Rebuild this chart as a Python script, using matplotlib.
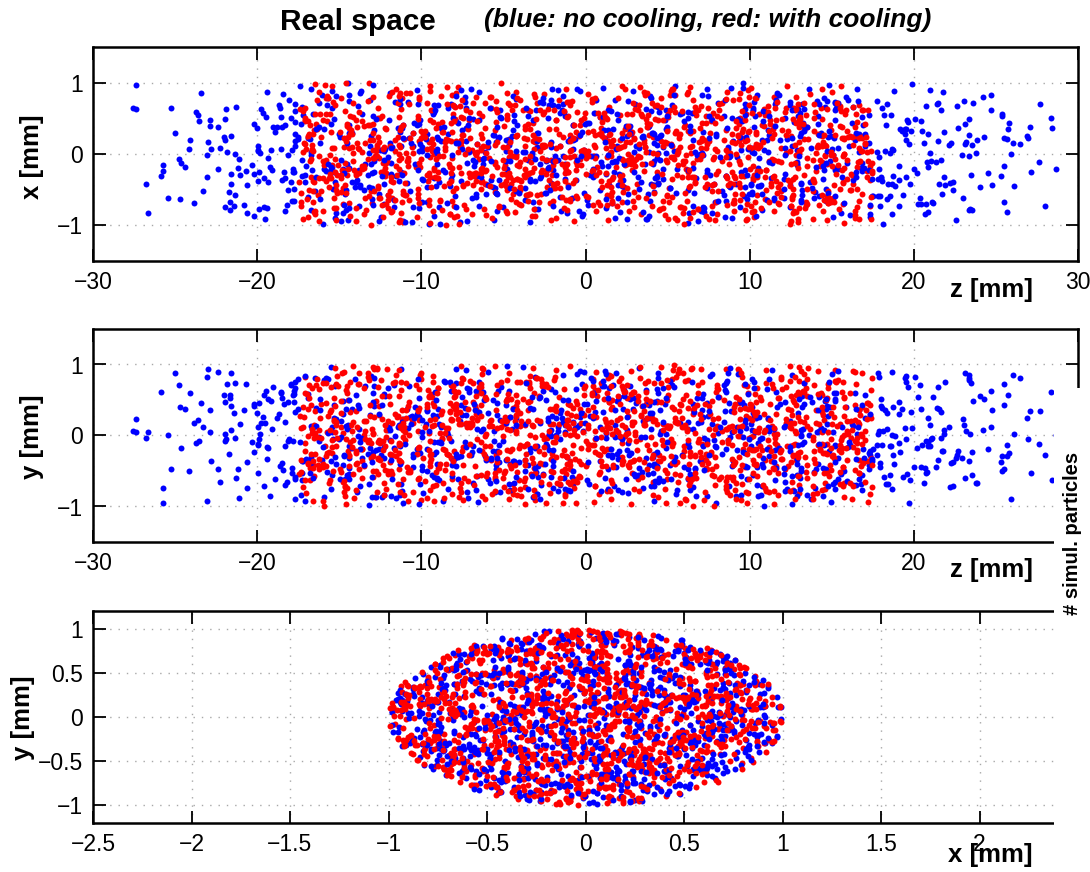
import numpy as np
import matplotlib
matplotlib.use("Agg")
import matplotlib.pyplot as plt
from matplotlib.patches import Rectangle
from matplotlib.ticker import FuncFormatter

plt.rcParams["font.family"] = ["Liberation Sans", "DejaVu Sans"]

# NOTE: the reference shows ~3000 individual simulated particles, whose single
# positions cannot be read off the picture. Only the slice counts, extents and
# beam radius below are read from it; the dot positions inside each slice come
# from a seeded random generator (make_bunch), so the clouds match in shape and
# density but not dot for dot.

# longitudinal profiles:
# number of simulated particles in each slice of z [mm]
blue_z_edges = [-27.6, -26, -24, -22, -20, -18, -16, -14, -12, -10, -8, -6, -4, -2,
                0, 2, 4, 6, 8, 10, 12, 14, 16, 18, 20, 22, 24, 26, 28, 29.1]
blue_z_counts = [5, 12, 16, 27, 38, 44, 44, 44, 44, 44, 44, 44, 44, 44,
                 44, 44, 44, 44, 44, 44, 44, 44, 41, 36, 33, 25, 18, 10, 3]
red_z_edges = [-17.5, -16, -14, -12, -10, -8, -6, -4, -2, 0, 2, 4, 6, 8, 10, 12, 14, 16, 17.5]
red_z_counts = [52, 74, 74, 74, 74, 74, 74, 74, 74, 74, 74, 74, 74, 74, 74, 74, 74, 52]

# transverse beam radius [mm] (bottom panel: x-y disc)
beam_radius = 1.0

# axis ranges and ticks
z_range = (-30, 30)
z_ticks = [-30, -20, -10, 0, 10, 20, 30]
xy_range = (-1.5, 1.5)
xy_ticks = [-1, 0, 1]
x_range = (-2.5, 2.5)
x_ticks = [-2.5, -2, -1.5, -1, -0.5, 0, 0.5, 1, 1.5, 2, 2.5]
y_range = (-1.2, 1.2)
y_ticks = [-1, -0.5, 0, 0.5, 1]

BLUE = (0, 0, 1)
RED = (1, 0, 0)


def make_bunch(edges, counts, rng):
    """Spread the slice counts into particles (z, x, y), transverse uniform in a disc."""
    zs = [rng.uniform(lo, hi, n) for lo, hi, n in zip(edges[:-1], edges[1:], counts)]
    z = np.concatenate(zs)
    n = len(z)
    r = beam_radius * np.sqrt(rng.uniform(0, 1, n))
    th = rng.uniform(0, 2 * np.pi, n)
    order = rng.permutation(n)
    return z[order], (r * np.cos(th))[order], (r * np.sin(th))[order]


rng = np.random.default_rng(11)
bz, bx, by = make_bunch(blue_z_edges, blue_z_counts, rng)
rz, rx, ry = make_bunch(red_z_edges, red_z_counts, rng)


def make_fmt(hidden):
    # labels under the covering panel on the right are not drawn
    def f(v, _):
        if any(abs(v - h) < 1e-9 for h in hidden):
            return ""
        return ("%g" % v).replace("-", "\u2212")
    return FuncFormatter(f)


def style(ax, xlim, ylim, xticks, yticks, hidden=()):
    ax.set_xlim(*xlim)
    ax.set_ylim(*ylim)
    ax.set_xticks(xticks)
    ax.set_yticks(yticks)
    ax.xaxis.set_major_formatter(make_fmt(hidden))
    ax.yaxis.set_major_formatter(make_fmt(()))
    ax.tick_params(direction="in", length=9, width=1.3, top=True, right=True,
                   labelsize=16.5, pad=7)
    ax.grid(True, color="0.66", linestyle=(0, (1, 5)), linewidth=1.0)
    ax.set_axisbelow(True)
    for s in ax.spines.values():
        s.set_linewidth(1.8)


def scatter_pairs(ax, bu, bv, ru, rv):
    # interleave the two bunches a bit so neither colour sits fully on top
    k = 3
    for i in range(k):
        ax.plot(bu[i::k], bv[i::k], "o", color=BLUE, ms=4.3, mew=0, zorder=3)
        ax.plot(ru[i::k], rv[i::k], "o", color=RED, ms=4.3, mew=0, zorder=3)


W, H = 1090, 872
fig = plt.figure(figsize=(W / 100, H / 100), dpi=100)

ax1 = fig.add_axes([93 / W, 1 - 261 / H, 985 / W, 214 / H])
ax2 = fig.add_axes([93 / W, 1 - 542 / H, 985 / W, 213 / H])
ax3 = fig.add_axes([93 / W, 1 - 823 / H, 985 / W, 212 / H])

scatter_pairs(ax1, bz, bx, rz, rx)
style(ax1, z_range, xy_range, z_ticks, xy_ticks)

scatter_pairs(ax2, bz, by, rz, ry)
style(ax2, z_range, xy_range, z_ticks, xy_ticks, hidden=(30,))

scatter_pairs(ax3, bx, by, rx, ry)
style(ax3, x_range, y_range, x_ticks, y_ticks, hidden=(2.5,))

lab = dict(fontsize=18.5, fontweight="bold", ha="center", va="center")
fig.text(991 / W, 1 - 290 / H, "z [mm]", **lab)
fig.text(991 / W, 1 - 570 / H, "z [mm]", **lab)
fig.text(990 / W, 1 - 855 / H, "x [mm]", **lab)
fig.text(32 / W, 1 - 157 / H, "x [mm]", rotation=90, **lab)
fig.text(32 / W, 1 - 437 / H, "y [mm]", rotation=90, **lab)
fig.text(23 / W, 1 - 718 / H, "y [mm]", rotation=90, **lab)

fig.text(358 / W, 1 - 22 / H, "Real space", fontsize=21.5, fontweight="bold",
         ha="center", va="center")
fig.text(708 / W, 1 - 20 / H, "(blue: no cooling, red: with cooling)", fontsize=19,
         fontweight="bold", style="italic", ha="center", va="center")

# neighbouring (cut-off) histogram panel covering the right edge
fig.patches.append(Rectangle((1054 / W, 0), 1 - 1054 / W, 1 - 388 / H,
                             transform=fig.transFigure, facecolor="white",
                             edgecolor="none", zorder=10))
fig.text(1072 / W, 1 - 533 / H, "# simul. particles", rotation=90, fontsize=14.5,
         fontweight="bold", ha="center", va="center", zorder=11)

fig.savefig("out.png", dpi=100)
